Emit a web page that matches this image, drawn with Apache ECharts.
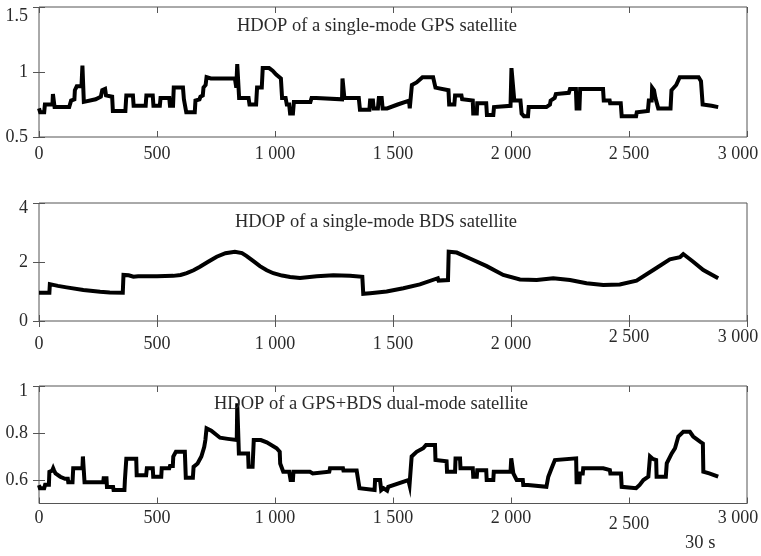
<!DOCTYPE html>
<html>
<head>
<meta charset="utf-8">
<script src="https://cdn.jsdelivr.net/npm/echarts@6/dist/echarts.min.js"></script>
<style>
html, body { margin: 0; padding: 0; background: #fff; }
#chart { width: 761px; height: 556px; }
</style>
</head>
<body>
<div id="chart"></div>
<script>
// Epoch ticks (one epoch = 30 s) and HDOP tick values for each panel
const timeTicks = [0, 500, 1000, 1500, 2000, 2500, 3000];
const gpsTicks = [0.5, 1, 1.5];
const bdsTicks = [0, 2, 4];
const dualTicks = [0.6, 0.8, 1];

const panelTitles = [
  'HDOP of a single-mode GPS satellite',
  'HDOP of a single-mode BDS satellite',
  'HDOP of a GPS+BDS dual-mode satellite'
];
const timeUnit = '30 s';

// HDOP, GPS only: [epoch, HDOP]
const gpsHdop = [
  [0,0.72],[5,0.69],[22,0.69],[25,0.75],[57,0.75],[59,0.83],[64,0.83],[66,0.73],[128,0.73],[136,0.78],
  [150,0.79],[152,0.86],[160,0.89],[180,0.89],[184,1.05],[188,1.05],[190,0.77],[240,0.79],[262,0.81],[268,0.86],
  [280,0.87],[284,0.82],[310,0.81],[313,0.70],[366,0.70],[370,0.82],[398,0.82],[401,0.74],[452,0.74],[455,0.82],
  [482,0.82],[485,0.74],[512,0.74],[515,0.80],[552,0.80],[555,0.74],[568,0.74],[571,0.88],[610,0.88],[614,0.79],
  [620,0.79],[624,0.69],[660,0.69],[663,0.78],[680,0.79],[684,0.81],[694,0.82],[697,0.88],[706,0.90],[710,0.96],
  [728,0.95],[830,0.95],[836,0.88],[840,1.06],[846,1.06],[848,0.80],[888,0.80],[892,0.75],[920,0.75],[924,0.88],
  [944,0.88],[948,1.03],[975,1.03],[990,1.01],[1005,0.98],[1025,0.95],[1030,0.80],[1045,0.80],[1050,0.75],[1060,0.75],
  [1064,0.68],[1076,0.68],[1080,0.77],[1150,0.77],[1155,0.80],[1175,0.80],[1180,0.785],[1284,0.79],[1286,0.95],[1292,0.95],
  [1294,0.80],[1355,0.80],[1360,0.71],[1400,0.71],[1403,0.78],[1415,0.78],[1418,0.72],[1436,0.72],[1440,0.80],[1452,0.80],
  [1456,0.72],[1475,0.72],[1520,0.75],[1568,0.78],[1571,0.72],[1576,0.72],[1580,0.90],[1600,0.92],[1625,0.96],[1670,0.96],
  [1680,0.88],[1735,0.86],[1738,0.75],[1760,0.75],[1763,0.82],[1790,0.82],[1793,0.79],[1838,0.78],[1840,0.68],[1855,0.68],
  [1857,0.76],[1895,0.76],[1898,0.67],[1925,0.67],[1928,0.73],[1998,0.74],[2002,1.03],[2010,1.03],[2014,0.78],[2040,0.78],
  [2045,0.68],[2055,0.66],[2072,0.66],[2075,0.73],[2150,0.73],[2165,0.75],[2168,0.78],[2185,0.80],[2190,0.83],[2245,0.84],
  [2250,0.87],[2275,0.87],[2278,0.72],[2290,0.72],[2293,0.87],[2390,0.87],[2393,0.78],[2418,0.78],[2420,0.76],[2465,0.76],
  [2469,0.66],[2530,0.66],[2533,0.69],[2580,0.70],[2584,0.78],[2596,0.78],[2598,0.88],[2606,0.86],[2612,0.80],[2620,0.79],
  [2624,0.72],[2676,0.72],[2680,0.86],[2700,0.90],[2715,0.96],[2795,0.96],[2805,0.93],[2812,0.75],[2850,0.74],[2878,0.73]
];

// HDOP, BDS only
const bdsHdop = [
  [0,0.96],[44,0.96],[46,1.25],[80,1.19],[117,1.14],[188,1.05],[259,0.99],[300,0.97],[355,0.96],[358,1.56],
  [380,1.55],[400,1.50],[420,1.52],[500,1.52],[569,1.53],[600,1.56],[626,1.62],[655,1.72],[682,1.84],[715,2.0],
  [753,2.18],[790,2.30],[830,2.35],[860,2.30],[880,2.20],[910,2.02],[936,1.86],[965,1.72],[993,1.62],[1030,1.54],
  [1064,1.49],[1106,1.46],[1177,1.52],[1247,1.55],[1318,1.53],[1370,1.50],[1374,0.92],[1403,0.94],[1473,1.0],[1544,1.11],
  [1614,1.24],[1690,1.45],[1693,1.37],[1733,1.39],[1736,2.35],[1770,2.32],[1826,2.12],[1897,1.86],[1967,1.56],[2038,1.41],
  [2109,1.39],[2179,1.45],[2250,1.39],[2320,1.28],[2391,1.22],[2461,1.24],[2532,1.37],[2603,1.73],[2673,2.09],[2716,2.16],
  [2723,2.10],[2730,2.27],[2772,2.01],[2815,1.73],[2878,1.45]
];

// HDOP, GPS+BDS combined
const dualHdop = [
  [0,0.578],[4,0.565],[22,0.565],[26,0.58],[42,0.58],[44,0.635],[56,0.64],[60,0.65],[64,0.64],[70,0.628],
  [90,0.614],[110,0.605],[122,0.605],[124,0.59],[142,0.59],[145,0.65],[184,0.65],[186,0.70],[190,0.70],[193,0.59],
  [272,0.59],[274,0.607],[286,0.607],[288,0.57],[314,0.57],[316,0.557],[362,0.557],[364,0.60],[370,0.69],[412,0.69],
  [414,0.62],[454,0.62],[457,0.65],[482,0.65],[484,0.614],[518,0.614],[520,0.65],[552,0.65],[555,0.66],[567,0.66],
  [569,0.70],[580,0.72],[618,0.72],[622,0.61],[652,0.61],[655,0.656],[672,0.67],[688,0.70],[700,0.74],[705,0.77],
  [710,0.82],[730,0.81],[767,0.78],[800,0.775],[838,0.77],[840,0.926],[845,0.926],[847,0.713],[886,0.713],[888,0.656],
  [905,0.656],[910,0.77],[940,0.77],[965,0.76],[1007,0.735],[1020,0.72],[1022,0.67],[1035,0.635],[1060,0.635],[1066,0.60],
  [1076,0.60],[1078,0.635],[1148,0.635],[1150,0.628],[1160,0.628],[1163,0.635],[1230,0.635],[1233,0.65],[1288,0.65],[1290,0.64],
  [1346,0.64],[1358,0.565],[1422,0.557],[1424,0.60],[1445,0.60],[1450,0.557],[1460,0.565],[1475,0.555],[1480,0.571],[1487,0.579],
  [1565,0.60],[1570,0.579],[1575,0.579],[1579,0.70],[1600,0.72],[1628,0.735],[1640,0.749],[1678,0.749],[1680,0.685],[1727,0.68],
  [1729,0.635],[1763,0.635],[1765,0.692],[1784,0.692],[1786,0.65],[1838,0.65],[1840,0.614],[1855,0.614],[1857,0.642],[1895,0.642],
  [1897,0.60],[1925,0.60],[1927,0.635],[1998,0.635],[2001,0.692],[2006,0.692],[2010,0.628],[2024,0.60],[2050,0.60],[2052,0.579],
  [2072,0.579],[2074,0.571],[2150,0.571],[2158,0.614],[2172,0.65],[2186,0.685],[2193,0.692],[2276,0.692],[2278,0.59],[2290,0.59],
  [2292,0.628],[2304,0.628],[2306,0.65],[2391,0.65],[2393,0.642],[2419,0.642],[2421,0.628],[2466,0.628],[2469,0.571],[2530,0.565],
  [2545,0.579],[2561,0.60],[2582,0.614],[2587,0.62],[2589,0.70],[2600,0.69],[2605,0.685],[2615,0.685],[2617,0.614],[2656,0.614],
  [2660,0.671],[2681,0.713],[2695,0.735],[2709,0.785],[2730,0.805],[2758,0.805],[2772,0.785],[2801,0.763],[2813,0.755],[2815,0.635],
  [2840,0.628],[2878,0.614]
];

const SERIF = "'Liberation Serif', 'DejaVu Serif', serif";
const INK = '#000';
const TEXT = '#2a2a2a';
const FRAME = '#555';

const fmtTime = v => String(v).replace(/\B(?=(\d{3})+(?!\d))/g, ' ');

// per-panel layout: plot box, y range, label offsets
const panels = [
  { top: 7,   height: 130,   yMin: 0.5, yMax: 1.5, yTicks: gpsTicks,  data: gpsHdop,
    titleX: 377, titleY: 17,  xMargin: 8, xPad: {}, xPadDefault: 0, yTopPad: 18 },
  { top: 203, height: 118,   yMin: 0,   yMax: 4,   yTicks: bdsTicks,  data: bdsHdop,
    titleX: 376, titleY: 213, xMargin: 7, xPad: { 2500: 0, 3000: 0 }, xPadDefault: 7, yTopPad: 10 },
  { top: 386, height: 117.5, yMin: 0.5, yMax: 1,   yTicks: dualTicks, data: dualHdop,
    titleX: 371, titleY: 395, xMargin: 6, xPad: { 2500: 6 }, xPadDefault: 0, yTopPad: 10 }
];

const grid = [], xAxis = [], yAxis = [], series = [], title = [];

panels.forEach((p, i) => {
  grid.push({ left: 39, width: 708, top: p.top, height: p.height,
    containLabel: false, outerBoundsMode: 'none',
    show: true, borderColor: FRAME, borderWidth: 1, backgroundColor: 'transparent' });

  const rich = {};
  timeTicks.forEach((t, k) => {
    const pad = (t in p.xPad) ? p.xPad[t] : p.xPadDefault;
    // the last label is pulled left so it stays on the canvas
    const right = t === 3000 ? 18 : 0;
    rich['t' + k] = { padding: [pad, right, 0, 0], fontFamily: SERIF, fontSize: 18, color: TEXT };
  });

  // bottom axis with labels
  xAxis.push({
    type: 'value', gridIndex: i, position: 'bottom', min: 0, max: 3000,
    axisLine: { show: false }, splitLine: { show: false },
    axisTick: { show: true, inside: true, length: 6, customValues: timeTicks, lineStyle: { color: FRAME } },
    axisLabel: { show: true, margin: p.xMargin, customValues: timeTicks, hideOverlap: false,
      fontFamily: SERIF, fontSize: 18, color: TEXT, rich,
      formatter: v => '{t' + timeTicks.indexOf(v) + '|' + fmtTime(v) + '}' }
  });
  // top axis: ticks only
  xAxis.push({
    type: 'value', gridIndex: i, position: 'top', min: 0, max: 3000,
    axisLine: { show: false }, splitLine: { show: false }, axisLabel: { show: false },
    axisTick: { show: true, inside: true, length: 6, customValues: timeTicks, lineStyle: { color: FRAME } }
  });

  // left axis with labels
  yAxis.push({
    type: 'value', gridIndex: i, position: 'left', min: p.yMin, max: p.yMax,
    axisLine: { show: false }, splitLine: { show: false },
    axisTick: { show: true, inside: true, length: 6, customValues: p.yTicks, lineStyle: { color: FRAME } },
    axisLabel: { show: true, margin: 11, customValues: p.yTicks,
      fontFamily: SERIF, fontSize: 18, color: TEXT,
      rich: { top: { padding: [p.yTopPad, 0, 0, 0], fontFamily: SERIF, fontSize: 18, color: TEXT },
              std: { fontFamily: SERIF, fontSize: 18, color: TEXT } },
      formatter: v => (v === p.yMax ? '{top|' : '{std|') + v + '}' }
  });
  // right axis: ticks only
  yAxis.push({
    type: 'value', gridIndex: i, position: 'right', min: p.yMin, max: p.yMax,
    axisLine: { show: false }, splitLine: { show: false }, axisLabel: { show: false },
    axisTick: { show: true, inside: true, length: 6, customValues: p.yTicks, lineStyle: { color: FRAME } }
  });

  series.push({
    type: 'line', xAxisIndex: i * 2, yAxisIndex: i * 2, data: p.data,
    showSymbol: false, silent: true, animation: false,
    lineStyle: { color: INK, width: 4, join: 'miter' }
  });

  title.push({
    text: panelTitles[i], left: p.titleX, top: p.titleY, textAlign: 'center', padding: 0,
    textStyle: { fontFamily: SERIF, fontSize: 18.5, fontWeight: 'normal', color: TEXT }
  });
});

title.push({
  text: timeUnit, left: 685, top: 534, padding: 0,
  textStyle: { fontFamily: SERIF, fontSize: 18.5, fontWeight: 'normal', color: TEXT }
});

const chart = echarts.init(document.getElementById('chart'), null, { renderer: 'canvas' });
chart.setOption({ animation: false, backgroundColor: '#fff', title, grid, xAxis, yAxis, series });
</script>
</body>
</html>
